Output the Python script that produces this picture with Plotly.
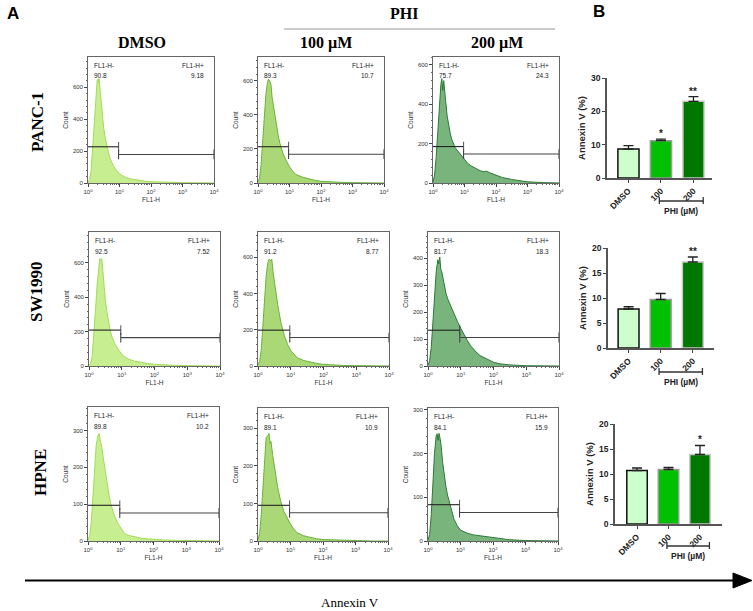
import plotly.graph_objects as go

W, H = 753, 611
def fx(p): return p / W
def fy(p): return 1 - p / H

# ---------------- data ----------------
CELL_LINES = ["PANC-1", "SW1990", "HPNE"]
TREATMENTS = ["DMSO", "100 µM", "200 µM"]

# histograms: log10(FL1-H) positions and counts
LOG_PANC1_DMSO = [0, 0.05, 0.1, 0.15, 0.2, 0.25, 0.29, 0.31, 0.33, 0.35, 0.37, 0.4, 0.45, 0.5, 0.55, 0.6, 0.65, 0.7, 0.8, 0.9, 1.0, 1.1, 1.2, 1.4, 1.6, 1.8, 2.0, 2.3, 2.6, 3.0, 3.5, 4.0]
CNT_PANC1_DMSO = [5, 20, 80, 220, 400, 560, 640, 650, 630, 655, 610, 520, 420, 340, 280, 230, 190, 155, 110, 80, 58, 45, 35, 24, 17, 12, 8, 5, 3, 2, 1, 0]

LOG_PANC1_100 = [0, 0.05, 0.1, 0.15, 0.2, 0.25, 0.3, 0.33, 0.37, 0.41, 0.45, 0.5, 0.55, 0.6, 0.65, 0.7, 0.8, 0.9, 1.0, 1.1, 1.2, 1.4, 1.6, 1.8, 2.0, 2.3, 2.6, 3.0, 3.5, 4.0]
CNT_PANC1_100 = [5, 30, 110, 250, 400, 520, 590, 610, 600, 580, 500, 440, 380, 320, 270, 230, 170, 130, 95, 70, 50, 35, 24, 16, 10, 6, 4, 2, 1, 0]

LOG_PANC1_200 = [0, 0.05, 0.1, 0.15, 0.2, 0.25, 0.28, 0.31, 0.34, 0.37, 0.4, 0.45, 0.5, 0.55, 0.6, 0.7, 0.8, 0.9, 1.0, 1.1, 1.2, 1.3, 1.4, 1.5, 1.6, 1.7, 1.8, 1.9, 2.0, 2.2, 2.5, 2.8, 3.0, 3.5, 4.0]
CNT_PANC1_200 = [5, 40, 130, 270, 400, 500, 530, 470, 520, 480, 420, 340, 290, 250, 220, 180, 160, 140, 120, 100, 88, 78, 70, 62, 58, 60, 52, 45, 38, 28, 18, 10, 6, 2, 0]

LOG_SW1990_DMSO = [0, 0.05, 0.1, 0.15, 0.2, 0.25, 0.3, 0.33, 0.36, 0.39, 0.42, 0.45, 0.5, 0.55, 0.6, 0.65, 0.7, 0.8, 0.9, 1.0, 1.1, 1.2, 1.4, 1.6, 1.8, 2.0, 2.3, 2.6, 3.0, 3.5, 4.0]
CNT_SW1990_DMSO = [3, 15, 60, 170, 330, 480, 600, 625, 620, 625, 560, 480, 380, 310, 250, 205, 170, 125, 95, 68, 52, 40, 28, 20, 14, 10, 6, 4, 2, 1, 0]

LOG_SW1990_100 = [0, 0.05, 0.1, 0.15, 0.2, 0.25, 0.3, 0.34, 0.38, 0.42, 0.46, 0.5, 0.55, 0.6, 0.65, 0.7, 0.8, 0.9, 1.0, 1.1, 1.2, 1.4, 1.6, 1.8, 2.0, 2.3, 2.6, 3.0, 3.5, 4.0]
CNT_SW1990_100 = [5, 25, 90, 220, 380, 500, 570, 590, 580, 590, 520, 460, 400, 340, 290, 240, 170, 120, 85, 62, 45, 30, 20, 14, 9, 5, 3, 2, 1, 0]

LOG_SW1990_200 = [0, 0.05, 0.1, 0.15, 0.2, 0.25, 0.3, 0.33, 0.36, 0.39, 0.42, 0.45, 0.5, 0.55, 0.6, 0.7, 0.8, 0.9, 1.0, 1.1, 1.2, 1.3, 1.4, 1.5, 1.6, 1.7, 1.8, 2.0, 2.2, 2.5, 3.0, 3.5, 4.0]
CNT_SW1990_200 = [3, 20, 70, 170, 280, 350, 395, 380, 405, 360, 350, 330, 300, 270, 250, 220, 190, 165, 140, 115, 95, 75, 60, 48, 38, 32, 24, 14, 8, 4, 1, 0, 0]

LOG_HPNE_DMSO = [0, 0.05, 0.1, 0.15, 0.2, 0.25, 0.3, 0.34, 0.38, 0.42, 0.46, 0.5, 0.55, 0.6, 0.65, 0.7, 0.8, 0.9, 1.0, 1.1, 1.2, 1.4, 1.6, 1.8, 2.0, 2.3, 2.6, 3.0, 3.5, 4.0]
CNT_HPNE_DMSO = [3, 15, 50, 120, 200, 260, 285, 292, 270, 255, 230, 205, 175, 145, 120, 100, 70, 50, 35, 22, 16, 11, 8, 6, 4, 3, 2, 1, 0, 0]

LOG_HPNE_100 = [0, 0.05, 0.1, 0.15, 0.2, 0.25, 0.3, 0.34, 0.37, 0.4, 0.45, 0.5, 0.55, 0.6, 0.65, 0.7, 0.8, 0.9, 1.0, 1.1, 1.2, 1.4, 1.6, 1.8, 2.0, 2.3, 2.6, 3.0, 3.5, 4.0]
CNT_HPNE_100 = [3, 20, 70, 150, 230, 275, 280, 286, 260, 265, 230, 200, 170, 145, 125, 105, 78, 60, 45, 32, 22, 14, 9, 6, 4, 3, 2, 1, 0, 0]

LOG_HPNE_200 = [0, 0.05, 0.1, 0.15, 0.2, 0.25, 0.28, 0.31, 0.34, 0.37, 0.4, 0.45, 0.5, 0.55, 0.6, 0.65, 0.7, 0.8, 0.9, 1.0, 1.2, 1.4, 1.6, 1.8, 2.0, 2.2, 2.5, 3.0, 3.5, 4.0]
CNT_HPNE_200 = [2, 15, 60, 140, 200, 240, 245, 230, 246, 235, 220, 180, 150, 125, 105, 90, 75, 50, 35, 25, 18, 14, 12, 10, 9, 6, 3, 1, 0, 0]

HIST_LOG = [[LOG_PANC1_DMSO, LOG_PANC1_100, LOG_PANC1_200],
            [LOG_SW1990_DMSO, LOG_SW1990_100, LOG_SW1990_200],
            [LOG_HPNE_DMSO, LOG_HPNE_100, LOG_HPNE_200]]
HIST_CNT = [[CNT_PANC1_DMSO, CNT_PANC1_100, CNT_PANC1_200],
            [CNT_SW1990_DMSO, CNT_SW1990_100, CNT_SW1990_200],
            [CNT_HPNE_DMSO, CNT_HPNE_100, CNT_HPNE_200]]

PCT_NEG = [["90.8", "89.3", "75.7"], ["92.5", "91.2", "81.7"], ["89.8", "89.1", "84.1"]]
PCT_POS = [["9.18", "10.7", "24.3"], ["7.52", "8.77", "18.3"], ["10.2", "10.9", "15.9"]]

# gate heights (count units) and split position (log10)
GATE_NEG_Y = [[227, 213, 185], [209, 198, 133], [97, 95, 83]]
GATE_POS_Y = [[179, 169, 147], [165, 157, 106], [76, 75, 65]]
GATE_SPLIT_LOG = 0.97

HIST_YMAX = [[790, 740, 640], [780, 740, 498], [364, 354, 304]]
HIST_YTICKS = [[[0, 200, 400, 600, 800], [0, 200, 400, 600], [0, 200, 400, 600]],
               [[0, 200, 400, 600], [0, 200, 400, 600], [0, 100, 200, 300, 400]],
               [[0, 100, 200, 300], [0, 100, 200, 300], [0, 100, 200, 300]]]
HIST_YMINOR = [[40, 40, 40], [40, 40, 20], [20, 20, 20]]
X_TICKVALS = [1, 10, 100, 1000, 10000]
X_TICKTEXT = ["10<sup>0</sup>", "10<sup>1</sup>", "10<sup>2</sup>", "10<sup>3</sup>", "10<sup>4</sup>"]

# bar charts
BAR_CATS = ["DMSO", "100", "200"]
BAR_MEAN = [[8.7, 11.2, 23.0], [7.8, 9.7, 17.2], [10.7, 10.9, 13.9]]
BAR_SEM = [[1.0, 0.45, 1.4], [0.45, 1.2, 1.0], [0.5, 0.4, 1.8]]
BAR_SIG = [["", "*", "**"], ["", "", "**"], ["", "", "*"]]
BAR_YMAX = [30, 20, 20]
BAR_DTICK = [10, 5, 5]

# ---------------- styles / layout ----------------
HIST_FILL = ["rgba(196,238,140,0.95)", "rgba(166,214,112,0.95)", "rgba(114,176,118,0.95)"]
HIST_LINE = ["#a2dc55", "#6ab436", "#2c7a36"]
BAR_FILL = ["#ccffcc", "#00c000", "#007800"]
BAR_EDGE = ["#111111", "#9a9a9a", "#c8c8c8"]

# pixel boxes (left, right, top, bottom)
HIST_BOX = [[(88, 214, 57, 183), (258, 384, 57, 183), (433, 559, 57, 183)],
            [(89, 220, 232, 366), (258, 389, 232, 366), (428, 559, 232, 366)],
            [(88, 219, 407, 541), (258, 388, 408, 541), (428, 558, 408, 541)]]
BAR_BOX = [(607, 712, 78, 178), (608, 714, 248, 348), (615, 722, 424, 524)]
BAR_XRANGE = [(-0.66, 2.57), (-0.64, 2.66), (-0.70, 2.70)]
BRACKET_Y = [201, 372, 546]

SANS = "Liberation Sans, Arial, sans-serif"
SERIF = "Liberation Serif, Times New Roman, serif"

fig = go.Figure()
layout = dict(width=W, height=H, margin=dict(l=0, r=0, t=0, b=0, autoexpand=False),
              paper_bgcolor="white", plot_bgcolor="white", template="none",
              showlegend=False, barmode="overlay")
annotations = []
shapes = []

def label(text, px, py, size, family, angle=0):
    annotations.append(dict(text=text, xref="paper", yref="paper", x=fx(px), y=fy(py),
                            xanchor="center", yanchor="middle", textangle=angle,
                            showarrow=False, font=dict(size=size, family=family, color="black")))

minor_x = [m * 10 ** k for k in range(4) for m in range(2, 10)]

idx = 0
for r in range(3):
    for c in range(3):
        idx += 1
        xa = "x" if idx == 1 else f"x{idx}"
        ya = "y" if idx == 1 else f"y{idx}"
        L, R, T, B = HIST_BOX[r][c]
        fig.add_trace(go.Scatter(
            x=[10 ** v for v in HIST_LOG[r][c]], y=HIST_CNT[r][c],
            mode="lines", fill="tozeroy", fillcolor=HIST_FILL[c],
            line=dict(color=HIST_LINE[c], width=1), xaxis=xa, yaxis=ya,
            hoverinfo="skip"))
        split = 10 ** GATE_SPLIT_LOG
        fig.add_trace(go.Scatter(
            x=[1, split], y=[GATE_NEG_Y[r][c]] * 2, mode="lines+markers",
            line=dict(color="#222", width=1.1),
            marker=dict(symbol="line-ns-open", size=[0, 7], line=dict(width=1.1, color="#222")),
            xaxis=xa, yaxis=ya, hoverinfo="skip"))
        fig.add_trace(go.Scatter(
            x=[split, 10000], y=[GATE_POS_Y[r][c]] * 2, mode="lines+markers",
            line=dict(color="#444", width=1.1),
            marker=dict(symbol="line-ns-open", size=7, line=dict(width=1.1, color="#444")),
            xaxis=xa, yaxis=ya, hoverinfo="skip", cliponaxis=False))
        layout[f"xaxis{idx}"] = dict(
            domain=[fx(L), fx(R)], anchor=ya, type="log", range=[0, 4], automargin=False,
            tickvals=X_TICKVALS, ticktext=X_TICKTEXT, ticks="outside", ticklen=3,
            tickcolor="#444", tickfont=dict(size=6, family=SANS, color="#333"),
            showline=True, linecolor="#666", linewidth=0.8, mirror=True,
            showgrid=False, zeroline=False,
            minor=dict(tickvals=minor_x, ticks="outside", ticklen=1.5, tickcolor="#666"),
            title=dict(text="FL1-H", font=dict(size=6.5, family=SANS, color="#333"), standoff=3))
        layout[f"yaxis{idx}"] = dict(
            domain=[fy(B), fy(T)], anchor=xa, range=[0, HIST_YMAX[r][c]], automargin=False,
            tickvals=HIST_YTICKS[r][c], ticks="outside", ticklen=3, tickcolor="#444",
            tickfont=dict(size=6, family=SANS, color="#333"),
            showline=True, linecolor="#666", linewidth=0.8, mirror=True,
            showgrid=False, zeroline=False,
            minor=dict(dtick=HIST_YMINOR[r][c], ticks="outside", ticklen=1.5, tickcolor="#666"),
            title=dict(text="Count", font=dict(size=6.5, family=SANS, color="#333"), standoff=3))
        dom_x = f"{xa} domain"
        dom_y = f"{ya} domain"
        for txt, xx, yy, anc in [("FL1-H-", 0.03, 0.98, "left"), (PCT_NEG[r][c], 0.03, 0.895, "left"),
                                 ("FL1-H+", 0.94, 0.98, "right"), (PCT_POS[r][c], 0.94, 0.895, "right")]:
            annotations.append(dict(text=txt, xref=dom_x, yref=dom_y, x=xx, y=yy,
                                    xanchor=anc, yanchor="top", showarrow=False,
                                    font=dict(size=6.5, family=SANS, color="#222")))

# bar charts
for b in range(3):
    idx += 1
    xa, ya = f"x{idx}", f"y{idx}"
    L, R, T, B = BAR_BOX[b]
    for k, cat in enumerate(BAR_CATS):
        fig.add_trace(go.Bar(
            x=[cat], y=[BAR_MEAN[b][k]], width=0.65,
            marker=dict(color=BAR_FILL[k], line=dict(color=BAR_EDGE[k], width=1.5)),
            error_y=dict(type="data", symmetric=False, array=[BAR_SEM[b][k]], arrayminus=[0],
                         color="#222", thickness=1.3, width=5),
            xaxis=xa, yaxis=ya, hoverinfo="skip"))
        if BAR_SIG[b][k]:
            annotations.append(dict(text="<b>" + BAR_SIG[b][k] + "</b>", xref=xa, yref=ya, x=k,
                                    y=BAR_MEAN[b][k] + BAR_SEM[b][k], xanchor="center", yanchor="bottom",
                                    showarrow=False, yshift=-2,
                                    font=dict(size=10, family=SANS, color="#222")))
    layout[f"xaxis{idx}"] = dict(
        domain=[fx(L), fx(R)], anchor=ya, type="category", categoryarray=BAR_CATS,
        range=list(BAR_XRANGE[b]), tickangle=-45, ticks="outside", ticklen=3, automargin=False,
        tickcolor="#444", tickwidth=1.3,
        tickfont=dict(size=8.5, family=SANS, color="#222", weight="bold"),
        showline=True, linecolor="#555", linewidth=1.5, showgrid=False, zeroline=False)
    layout[f"yaxis{idx}"] = dict(
        domain=[fy(B), fy(T)], anchor=xa, range=[0, BAR_YMAX[b]], dtick=BAR_DTICK[b],
        ticks="outside", ticklen=3, tickcolor="#444", tickwidth=1.3, automargin=False,
        tickfont=dict(size=8.5, family=SANS, color="#222", weight="bold"),
        showline=True, linecolor="#555", linewidth=1.5, showgrid=False, zeroline=False,
        title=dict(text="<b>Annexin V (%)</b>", font=dict(size=9.5, family=SANS, color="#222"), standoff=4))
    by = BRACKET_Y[b]
    shapes.append(dict(type="line", xref=xa, yref="paper", x0=0.95, x1=2.3, y0=fy(by), y1=fy(by),
                       line=dict(color="#333", width=1.3)))
    for xe in (0.95, 2.3):
        shapes.append(dict(type="line", xref=xa, yref="paper", x0=xe, x1=xe,
                           y0=fy(by - 4), y1=fy(by + 3), line=dict(color="#333", width=1.3)))
    annotations.append(dict(text="<b>PHI (µM)</b>", xref=xa, yref="paper", x=1.62, y=fy(by + 3),
                            xanchor="center", yanchor="top", showarrow=False,
                            font=dict(size=8.5, family=SANS, color="#222")))

# headings and labels
label("<b>A</b>", 13, 13, 17, SANS)
label("<b>B</b>", 599, 12, 17, SANS)
for txt, cx in zip(TREATMENTS, [142, 326, 497]):
    label("<b>" + txt + "</b>", cx, 43, 16, SERIF)
label("<b>PHI</b>", 404, 13, 16, SERIF)
shapes.append(dict(type="line", xref="paper", yref="paper", x0=fx(284), x1=fx(555), y0=fy(29), y1=fy(29),
                   line=dict(color="#999", width=1)))
for txt, cx, cy in zip(CELL_LINES, [37, 36, 41], [122, 292, 473]):
    label("<b>" + txt + "</b>", cx, cy, 17, SERIF, angle=-90)

# bottom arrow
shapes.append(dict(type="line", xref="paper", yref="paper", x0=fx(25), x1=fx(736), y0=fy(580.5), y1=fy(580.5),
                   line=dict(color="black", width=2)))
shapes.append(dict(type="path", xref="paper", yref="paper",
                   path=f"M {fx(733)} {fy(573)} L {fx(752)} {fy(580.5)} L {fx(733)} {fy(588)} Z",
                   fillcolor="black", line=dict(color="black", width=1)))
label("Annexin V", 350, 602, 13, SERIF)

layout["annotations"] = annotations
layout["shapes"] = shapes
fig.update_layout(**layout)
fig.write_html("out.html", config={"displayModeBar": False},
               post_script="document.body.style.margin='0px';document.body.style.overflow='hidden';")
